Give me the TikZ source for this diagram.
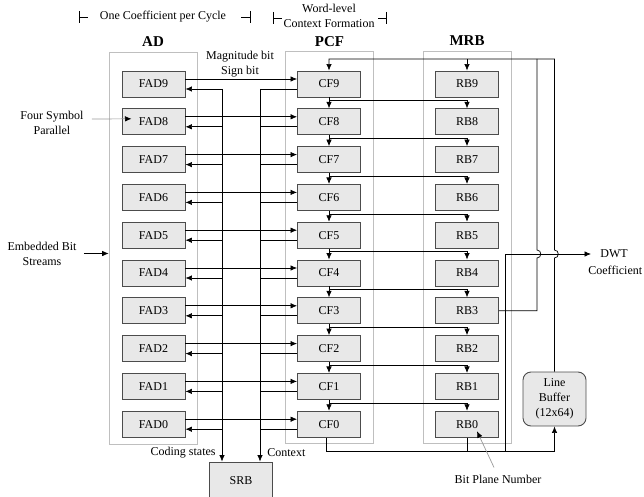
\documentclass[tikz,border=0pt]{standalone}
\usepackage{fontspec}
\setmainfont{Liberation Serif}
\usetikzlibrary{arrows.meta, calc}

\tikzset{
  blk/.style={draw=black!70, line width=0.9pt, fill=black!9, minimum width=63pt, minimum height=26pt, inner sep=0pt},
  grp/.style={draw=black!25, line width=0.7pt, minimum width=88pt, minimum height=392pt, inner sep=0pt},
  title/.style={font=\bfseries\fontsize{15}{17}\selectfont},
  lbl/.style={align=center, inner sep=1pt},
  arr/.style={-{Latex[length=6.5pt,width=5.5pt]}},
  ptr/.style={draw=black!40, -{Latex[length=6.5pt,width=5.5pt,color=black]}},
}

\begin{document}
\begin{tikzpicture}[x=1pt, y=-1pt, line width=0.7pt, font=\fontsize{12}{15}\selectfont]
        \useasboundingbox (0,0) rectangle (644,497);

        % 枠
        \node[grp] (adg) at (153,248) {};
        \node[grp] (pcfg) at (329.5,247.5) {};
        \node[grp] (mrbg) at (467,247) {};
        \node[title] at ([yshift=10pt]adg.north) {AD};
        \node[title] at ([yshift=10pt]pcfg.north) {PCF};
        \node[title] at ([yshift=10pt]mrbg.north) {MRB};

        % 上の見出し
        \node[lbl] (occ) at (163,16.5) {One Coefficient per Cycle};
        \node[lbl] (wcf) at (329,16) {Word-level\\Context Formation};
        \draw (79,11)--(79,23) (79,17)--(88,17) (241,17)--(250,17) (250,11)--(250,23);
        \draw (273,12)--(273,24) (273,18)--(282,18) (378,18)--(386,18) (386,12)--(386,24);

        % ブロック
        \foreach \k in {0,...,9}{
            \pgfmathsetmacro\yy{84+(9-\k)*37.8}
            \node[blk] (fad\k) at (153.5,\yy) {FAD\k};
            \node[blk] (cf\k) at (329,\yy) {CF\k};
            \node[blk] (rb\k) at (467,\yy) {RB\k};
        }
        \node[blk, minimum height=38pt] (srb) at (241,481) {SRB};
        \node[blk, rounded corners=8pt, minimum height=54pt, align=center] (lb) at (554.5,399) {Line\\Buffer\\(12x64)};

        % FAD <-> CF
        \coordinate (cs) at (222,89);  % coding states
        \coordinate (ctx) at (260,89); % context
        \foreach \k in {0,...,9}{
            \coordinate (fi\k) at ([yshift=-5pt]fad\k.east);
            \coordinate (co\k) at ([yshift=-5pt]cf\k.west);
            \draw[arr] ([yshift=5pt]fad\k.east) -- ([yshift=5pt]cf\k.west);
            \draw[arr] (fi\k -| cs) -- (fi\k);
            \draw (co\k) -- (co\k -| ctx);
        }
        \draw[arr] (cs) -- (cs |- srb.north);
        \draw[arr] (ctx) -- (ctx |- srb.north);
        \node[lbl] (mag) at (240,64.5) {Magnitude bit\\Sign bit};
        \node[lbl, anchor=east] (csl) at (217,453) {Coding states};
        \node[lbl, anchor=west] (ctxl) at (266,453) {Context};

        % CF -> CF, RB
        \foreach \k in {9,...,1}{
            \pgfmathtruncatemacro\j{\k-1}
            \draw[arr] (cf\k.south) -- (cf\j.north);
            \draw[arr] ([yshift=-3pt]cf\k.south) -| (rb\j.north);
        }

        % 右側の配線
        \node[lbl] (dwt) at (614,254) {DWT};
        \node[lbl, anchor=east] (coef) at (643.5,270) {Coefficient};
        \coordinate (tb) at (554,59);
        \coordinate (fb) at (537,59);
        \coordinate (dj) at (505,254);
        \coordinate (bt) at (0,451);
        \draw[arr] (lb.north) -- ($(lb.north |- dj)+(0,4)$) .. controls +(5,0) and +(5,0) .. ($(lb.north |- dj)+(0,-4)$) -- (lb.north |- tb) -| (cf9.north);
        \draw[arr] (rb9.north |- tb) -- (rb9.north);
        \draw (rb3.east) -| ($(fb |- dj)+(0,4)$) .. controls +(5,0) and +(5,0) .. ($(fb |- dj)+(0,-4)$) -- (fb);
        \draw[arr] ([xshift=-3pt]cf0.south) |- (lb.south |- bt) -- (lb.south);
        \draw (rb0.south) -- (rb0.south |- bt);
        \draw[arr] (dj |- bt) -- (dj) -- ([xshift=-8pt]dwt.west);

        % 入力など
        \node[lbl] (ebs) at (42,253.5) {Embedded Bit\\Streams};
        \draw[arr] ([xshift=6pt]ebs.east) -- (adg.west |- ebs.east);
        \node[lbl] (fsp) at (52,123) {Four Symbol\\Parallel};
        \draw[ptr] ([xshift=7pt,yshift=4pt]fsp.east) -- ([xshift=-22pt,yshift=3pt]fad8.center);
        \node[lbl] (bpn) at (498,479) {Bit Plane Number};
        \draw[ptr] ([xshift=-4pt,yshift=6pt]bpn.north) -- ($(rb0.center)+(10,7)$);

    \end{tikzpicture}
\end{document}
